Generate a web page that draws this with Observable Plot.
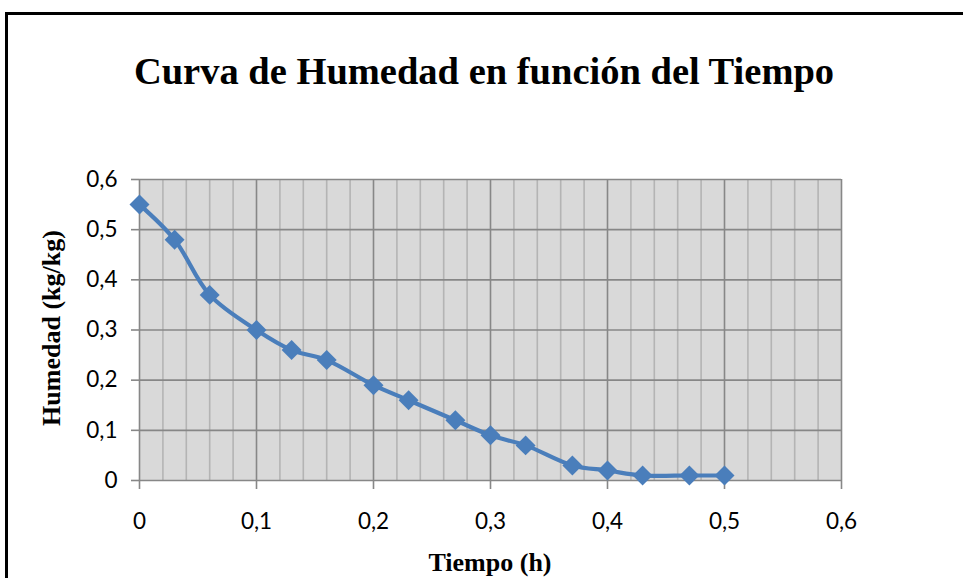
<!DOCTYPE html>
<html>
<head>
<meta charset="utf-8">
<script src="https://cdn.jsdelivr.net/npm/d3@7"></script>
<script src="https://cdn.jsdelivr.net/npm/@observablehq/plot@0.6"></script>
<style>
  html, body { margin: 0; padding: 0; background: #fff; width: 963px; height: 578px; overflow: hidden; }
  #wrap { position: relative; width: 963px; height: 578px; }
  #border { position: absolute; left: 5px; top: 12px; width: 1000px; height: 700px; border: 3px solid #000; box-sizing: border-box; }
  .ttl { position: absolute; font-family: "Liberation Serif", "Times New Roman", serif; font-weight: bold; color: #000; white-space: nowrap; line-height: 1; }
  #title { left: 0; width: 968px; text-align: center; top: 52px; font-size: 38.5px; }
  #xtitle { left: 0; width: 980px; text-align: center; top: 550px; font-size: 26px; }
  #ytitle { left: 52px; top: 328px; font-size: 26px; transform: translate(-50%, -50%) rotate(-90deg); }
  #chart { position: absolute; left: 0; top: 0; }
</style>
</head>
<body>
<div id="wrap">
  <div id="border"></div>
  <div id="chart"></div>
  <div id="title" class="ttl">Curva de Humedad en función del Tiempo</div>
  <div id="xtitle" class="ttl">Tiempo (h)</div>
  <div id="ytitle" class="ttl">Humedad (kg/kg)</div>
</div>
<script>
// Data
const tiempo  = [0, 0.03, 0.06, 0.10, 0.13, 0.16, 0.20, 0.23, 0.27, 0.30, 0.33, 0.37, 0.40, 0.43, 0.47, 0.50];
const humedad = [0.55, 0.48, 0.37, 0.30, 0.26, 0.24, 0.19, 0.16, 0.12, 0.09, 0.07, 0.03, 0.02, 0.01, 0.01, 0.01];

// Axis ticks
const xMajorTicks = [0, 0.1, 0.2, 0.3, 0.4, 0.5, 0.6];
const xMinorTicks = [0.02, 0.04, 0.06, 0.08, 0.12, 0.14, 0.16, 0.18, 0.22, 0.24, 0.26, 0.28,
                     0.32, 0.34, 0.36, 0.38, 0.42, 0.44, 0.46, 0.48, 0.52, 0.54, 0.56, 0.58];
const yMajorTicks = [0, 0.1, 0.2, 0.3, 0.4, 0.5, 0.6];

const data = tiempo.map((t, i) => ({t, h: humedad[i]}));
const fmt = d => d === 0 ? "0" : String(+d.toFixed(2)).replace(".", ",");

const blue = "#4a7ebb";
const major = "#878787";
const minor = "#b4b4b4";

const chart = Plot.plot({
  width: 963,
  height: 578,
  marginLeft: 139,
  marginRight: 122,
  marginTop: 179,
  marginBottom: 98,
  style: { fontFamily: "Lato, 'Open Sans', sans-serif", fontSize: "22.5px", color: "#000", background: "transparent" },
  x: { domain: [0, 0.6] },
  y: { domain: [0, 0.6] },
  marks: [
    Plot.frame({ fill: "#d9d9d9", stroke: null }),
    Plot.ruleX(xMinorTicks, { stroke: minor, strokeWidth: 1.6 }),
    Plot.ruleX(xMajorTicks, { stroke: major, strokeWidth: 1.6 }),
    Plot.ruleY(yMajorTicks, { stroke: major, strokeWidth: 1.6 }),
    Plot.axisY({ ticks: yMajorTicks, tickFormat: fmt, tickSize: 8, tickPadding: 14, stroke: major, strokeWidth: 1.6, label: null }),
    Plot.axisX({ ticks: xMajorTicks, tickFormat: fmt, tickSize: 9, tickPadding: 24, stroke: major, strokeWidth: 1.6, label: null }),
    Plot.line(data, { x: "t", y: "h", stroke: blue, strokeWidth: 4.2, curve: "catmull-rom" }),
    Plot.dot(data, { x: "t", y: "h", symbol: "diamond2", r: 9, fill: blue, stroke: null })
  ]
});
document.getElementById("chart").appendChild(chart);
</script>
</body>
</html>
